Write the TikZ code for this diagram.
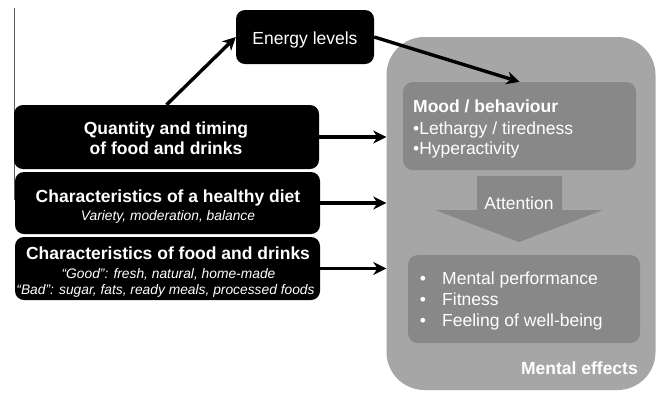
\documentclass[tikz,border=0pt]{standalone}
\usepackage{fontspec}
\setmainfont{Liberation Sans}
\usetikzlibrary{arrows.meta}
\definecolor{outerg}{HTML}{A6A6A6}
\definecolor{innerg}{HTML}{888888}
\begin{document}
\begin{tikzpicture}[x=1pt,y=-1pt,
  blackbox/.style={draw=none, fill=black, rounded corners=9pt, inner sep=0pt},
  graybox/.style={draw=none, fill=innerg, rounded corners=10pt, inner sep=0pt},
  txt/.style={text=white, inner sep=0pt, anchor=base},
  big/.style={font=\fontsize{17.5}{20}\selectfont},
  bigb/.style={font=\fontsize{17.5}{20}\selectfont\bfseries},
  small/.style={font=\fontsize{13.8}{16}\selectfont\itshape},
  conn/.style={line width=3.4pt, -{Stealth[length=13pt,width=13pt,inset=4pt]}}
]
\useasboundingbox (0,0) rectangle (660,392);
\fill[white] (0,0) rectangle (660,392);
\draw[gray!70!black, line width=0.8pt] (14,8) -- (14,200);

% outer box
\node[draw=none, fill=outerg, rounded corners=38pt, minimum width=269pt, minimum height=353pt, inner sep=0pt] (big) at (521,213.5) {};
\node[graybox, minimum width=233pt, minimum height=88pt] (mood) at (519.5,126) {};
\node[graybox, minimum width=232pt, minimum height=88pt] (perf) at (524,299) {};
\fill[innerg] (477,176) -- (562,176) -- (562,210) -- (603,210) -- (519,242) -- (435,210) -- (477,210) -- cycle;

% left boxes
\node[blackbox, minimum width=138pt, minimum height=54pt] (energy) at (305,37) {};
\node[blackbox, minimum width=305pt, minimum height=64pt] (quant) at (166.5,137) {};
\node[blackbox, minimum width=305pt, minimum height=62pt] (diet) at (167.5,203) {};
\node[blackbox, minimum width=305pt, minimum height=63pt] (food) at (167.5,268.5) {};

% texts
\node[txt, big] (tEnergy) at (305,44) {Energy levels};
\node[txt, bigb] (tQ1) at (166,134) {Quantity and timing};
\node[txt, bigb] (tQ2) at (166,154) {of food and drinks};
\node[txt, bigb] (tD1) at (168,202) {Characteristics of a healthy diet};
\node[txt, small] (tD2) at (168,220) {Variety, moderation, balance};
\node[txt, bigb] (tF1) at (168,259) {Characteristics of food and drinks};
\node[txt, small] (tF2) at (168.5,278) {“Good”: fresh, natural, home-made};
\node[txt, small] (tF3) at (165.5,294) {“Bad”: sugar, fats, ready meals, processed foods};

\node[txt, bigb, anchor=base west] (tM1) at (413,112) {Mood / behaviour};
\node[txt, big, anchor=base west] (tM2) at (413,134) {•Lethargy / tiredness};
\node[txt, big, anchor=base west] (tM3) at (413,154) {•Hyperactivity};
\node[txt, big] (tAtt) at (519,209) {Attention};
\node[txt, big, anchor=base west] (tP1) at (442,284) {Mental performance};
\node[txt, big, anchor=base west] (tP2) at (442,305) {Fitness};
\node[txt, big, anchor=base west] (tP3) at (442,326) {Feeling of well-being};
\node[txt, big] (b1) at (423,284) {•};
\node[txt, big] (b2) at (423,305) {•};
\node[txt, big] (b3) at (423,326) {•};
\node[txt, bigb, anchor=base east] (tME) at (638,374) {Mental effects};

% connectors
\draw[conn] (quant.north) -- (energy.west);
\draw[conn] (energy.east) -- (mood.north);
\draw[conn] (quant.east) -- (quant.east -| big.west);
\draw[conn] (diet.east) -- (diet.east -| big.west);
\draw[conn] (food.east) -- (food.east -| big.west);
\end{tikzpicture}
\end{document}
